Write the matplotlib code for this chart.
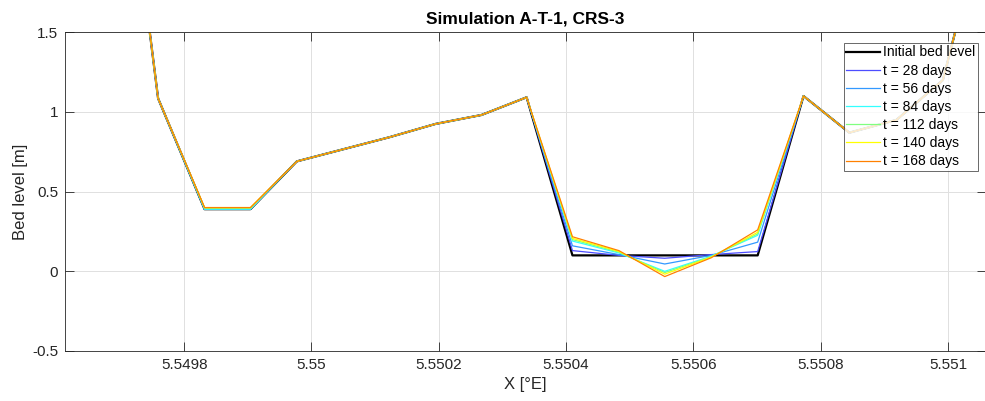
import numpy as np
import matplotlib.pyplot as plt

plt.rcParams['font.family'] = ['Liberation Sans', 'DejaVu Sans']

# cross-section positions (degrees east)
x_pos = [5.549686, 5.549759, 5.549832, 5.549904, 5.549977, 5.550049, 5.550122,
         5.550195, 5.550267, 5.550338, 5.550410, 5.550483, 5.550555, 5.550628,
         5.550701, 5.550773, 5.550845, 5.550919, 5.550992, 5.551065]

bed_initial = [3.40, 1.085, 0.39, 0.39, 0.69, 0.765, 0.841, 0.925, 0.981, 1.092,
               0.10, 0.10, 0.10, 0.10, 0.10, 1.10, 0.87, 0.95, 1.20, 2.34]

# only the trench part changes in time
bank_left = [3.40, 1.085]
slope_left = [0.69, 0.765, 0.841, 0.925, 0.981, 1.092]
bank_right = [1.10, 0.87, 0.95, 1.20, 2.34]

flat_28 = [0.39, 0.39]
flat_56 = [0.39, 0.39]
flat_84 = [0.39, 0.39]
flat_112 = [0.395, 0.395]
flat_140 = [0.40, 0.40]
flat_168 = [0.40, 0.40]

trench_28 = [0.130, 0.100, 0.082, 0.105, 0.124]
trench_56 = [0.160, 0.105, 0.046, 0.100, 0.183]
trench_84 = [0.190, 0.115, 0.000, 0.095, 0.226]
trench_112 = [0.199, 0.120, -0.008, 0.092, 0.235]
trench_140 = [0.207, 0.125, -0.018, 0.089, 0.245]
trench_168 = [0.217, 0.130, -0.033, 0.085, 0.260]

labels = ["t = 28 days", "t = 56 days", "t = 84 days", "t = 112 days",
          "t = 140 days", "t = 168 days"]
colors = ["#4d4dff", "#3399ff", "#33ffff", "#80ff80", "#ffff00", "#ff8000"]

flats = [flat_28, flat_56, flat_84, flat_112, flat_140, flat_168]
trenches = [trench_28, trench_56, trench_84, trench_112, trench_140, trench_168]

xtick_vals = [5.5498, 5.55, 5.5502, 5.5504, 5.5506, 5.5508, 5.551]
xtick_labels = ["5.5498", "5.55", "5.5502", "5.5504", "5.5506", "5.5508", "5.551"]
ytick_vals = [-0.5, 0, 0.5, 1, 1.5]
ytick_labels = ["-0.5", "0", "0.5", "1", "1.5"]

fig = plt.figure(figsize=(9.85, 4.01), dpi=100)
ax = fig.add_axes([0.0663, 0.1247, 0.9347, 0.7948])

ax.plot(x_pos, bed_initial, color="black", lw=1.6, label="Initial bed level")
for lab, col, fl, tr in zip(labels, colors, flats, trenches):
    y = bank_left + fl + slope_left + tr + bank_right
    ax.plot(x_pos, y, color=col, lw=0.9, label=lab)

ax.set_xlim(5.5496132, 5.5510597)
ax.set_ylim(-0.5, 1.5)
ax.set_xticks(xtick_vals)
ax.set_xticklabels(xtick_labels)
ax.set_yticks(ytick_vals)
ax.set_yticklabels(ytick_labels)

ax.grid(True, color="#e0e0e0", lw=0.7)
ax.set_axisbelow(True)
ax.tick_params(direction="in", top=True, right=True, length=6.8, width=0.6,
               colors="#262626", labelsize=11, pad=5)
for s in ax.spines.values():
    s.set_color("#262626")
    s.set_linewidth(0.6)

ax.set_title("Simulation A-T-1, CRS-3", fontsize=12.5, fontweight="bold", pad=6)
ax.set_xlabel("X [°E]", fontsize=12, color="#262626", labelpad=4)
ax.set_ylabel("Bed level [m]", fontsize=12, color="#262626", labelpad=3)

leg = ax.legend(loc="upper right", bbox_to_anchor=(978.3 / 985, 1 - 42.7 / 401),
                bbox_transform=fig.transFigure, fontsize=10, frameon=True,
                fancybox=False, borderpad=0.2, handlelength=2.4,
                handletextpad=0.25, labelspacing=0.3, borderaxespad=0)
leg.get_frame().set_edgecolor("#262626")
leg.get_frame().set_linewidth(0.6)

fig.savefig("out.png", dpi=100)
